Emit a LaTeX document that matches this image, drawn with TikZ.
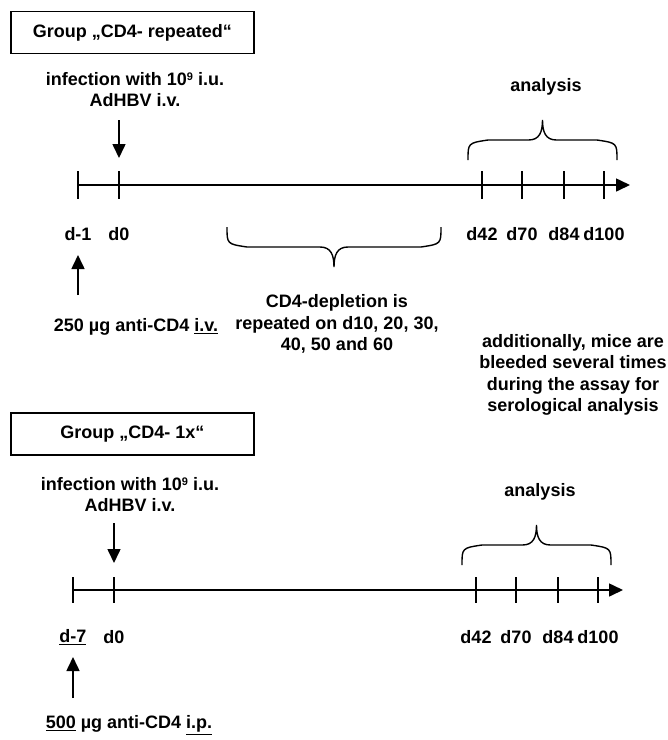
\documentclass[tikz,border=0pt]{standalone}
\usepackage{fontspec}
\setmainfont{Liberation Sans}
\usetikzlibrary{arrows.meta}
\newcommand{\supnine}{\raisebox{4.5pt}{\fontsize{11}{11}\selectfont 9}}

\begin{document}
\begin{tikzpicture}[x=1pt,y=-1pt,>={Triangle[width=13pt,length=14pt]},
font=\bfseries\fontsize{18}{21.5}\selectfont,
line/.style={line width=1.6pt},
arr/.style={line,->},
lbl/.style={inner sep=0pt,align=center},
group/.style={draw,line width=1.2pt,minimum width=243pt,minimum height=42pt},
pics/cbrace/.style={code={\draw[line width=1.4pt] (-#1,20) .. controls (-#1,3) .. (-#1+20,0) -- (-14,0)
  .. controls (-3,0) and (0,-8) .. (0,-20) .. controls (0,-8) and (3,0) .. (14,0) -- (#1-20,0) .. controls (#1,3) .. (#1,20);}}]
\useasboundingbox (0,0) rectangle (668,740);
% group CD4- repeated
\node[group] (grep) at (132.5,32.5) {Group „CD4- repeated“};
\node[lbl] (inf1) at (135,89.5) {infection with 10\supnine{} i.u.\\AdHBV i.v.};
\coordinate (a1) at (78,185); \coordinate (b1) at (119,185); \coordinate (z1) at (630,185);
\draw[arr] (a1)--(z1);
\foreach \x/\d in {78/d-1,119/d0,482/d42,522/d70,564/d84,604/d100}{
  \draw[line] (\x,171)--(\x,199);
  \node[lbl] (l1\d) at (\x,234) {\d};}
\draw[arr] (b1) ++(0,-65) -- ++(0,38);
\draw[arr] (a1) ++(0,110) -- ++(0,-40);
\node[lbl] (dose1) at (136,327) {250 µg anti-CD4 \underline{i.v.}};
\pic at (542.5,140) {cbrace=74.5};
\node[lbl] (ana1) at (546,87) {analysis};
\pic[yscale=-1] at (334,247) {cbrace=107};
\node[lbl] (depl) at (337,324) {CD4-depletion is\\repeated on d10, 20, 30,\\40, 50 and 60};
\node[lbl] (bleed) at (573,375) {additionally, mice are\\bleeded several times\\during the assay for\\serological analysis};
% group CD4- 1x
\node[group] (gone) at (132.5,434) {Group „CD4- 1x“};
\node[lbl] (inf2) at (130,494.5) {infection with 10\supnine{} i.u.\\AdHBV i.v.};
\coordinate (a2) at (73,590); \coordinate (b2) at (114,590); \coordinate (z2) at (623,590);
\draw[arr] (a2)--(z2);
\foreach \x/\d in {114/d0,476/d42,516/d70,558/d84,598/d100}{
  \draw[line] (\x,577)--(\x,603);
  \node[lbl] (l2\d) at (\x,637) {\d};}
\draw[line] (73,577)--(73,603);
\node[lbl] (l2d-7) at (73,637) {\underline{d-7}};
\draw[arr] (b2) ++(0,-67) -- ++(0,40);
\draw[arr] (a2) ++(0,108) -- ++(0,-41);
\node[lbl] (dose2) at (129,725) {\underline{500} µg anti-CD4 \underline{i.p.}};
\pic at (536.5,545) {cbrace=74.5};
\node[lbl] (ana2) at (540,492) {analysis};
\end{tikzpicture}
\end{document}
